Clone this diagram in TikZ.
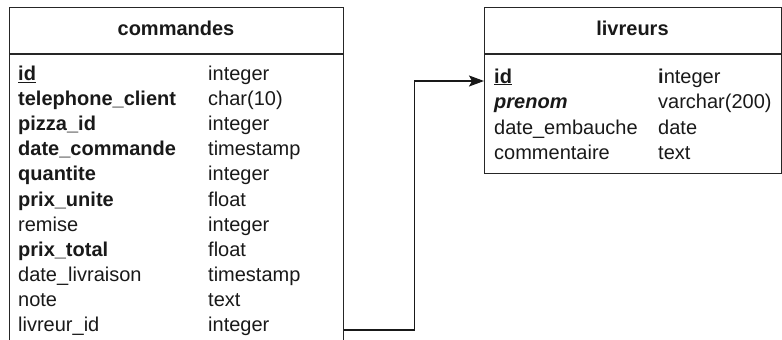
\documentclass[tikz,border=0pt]{standalone}
\usepackage{fontspec}
\setmainfont{Liberation Sans}
\usetikzlibrary{arrows.meta}
\tikzset{
  x=1bp, y=-1bp,
  tbl/.style={draw=black!85, line width=1.2bp, rectangle, inner sep=0pt, anchor=north west},
  sepline/.style={draw=black!85, line width=1.2bp},
  cell/.style={anchor=base west, inner sep=0pt, font=\fontsize{20bp}{24bp}\selectfont, text=black!90},
  head/.style={anchor=base, inner sep=0pt, font=\fontsize{20bp}{24bp}\selectfont\bfseries, text=black!90},
  fkline/.style={draw=black!90, line width=1.4bp, -{Stealth[length=15bp,width=11bp,inset=3bp]}}
}
\begin{document}
\begin{tikzpicture}
\useasboundingbox (0,0) rectangle (782,339);
\clip (0,0) rectangle (782,339);
% commandes table
\node[tbl, minimum width=334bp, minimum height=360bp] (cmd) at (9,7) {};
\draw[sepline] (9,54) -- (343,54);
\node[head] (cmdh) at (176,35.5) {commandes};
\foreach \n/\t/\s [count=\i from 0] in {
  {\underline{\bfseries id}}/integer/b,
  {\bfseries telephone\_client}/char(10)/b,
  {\bfseries pizza\_id}/integer/b,
  {\bfseries date\_commande}/timestamp/b,
  {\bfseries quantite}/integer/b,
  {\bfseries prix\_unite}/float/b,
  {remise}/integer/r,
  {\bfseries prix\_total}/float/b,
  {date\_livraison}/timestamp/r,
  {note}/text/r,
  {livreur\_id}/integer/r}{
  \node[cell] (cmdn\i) at (18,{80.5+25.1*\i}) {\n};
  \node[cell] (cmdt\i) at (208,{80.5+25.1*\i}) {\t};
}
% livreurs table
\node[tbl, minimum width=297bp, minimum height=166bp] (liv) at (484,7) {};
\draw[sepline] (484,54) -- (781,54);
\node[head] (livh) at (632.5,35.5) {livreurs};
\foreach \n/\t [count=\i from 0] in {
  {\underline{\bfseries id}}/{{\bfseries i}nteger},
  {\bfseries\itshape prenom}/varchar(200),
  {date\_embauche}/date,
  {commentaire}/text}{
  \node[cell] (livn\i) at (494,{83+25.5*\i}) {\n};
  \node[cell] (livt\i) at (658,{83+25.5*\i}) {\t};
}
% foreign key connector
\coordinate (fkrow) at (0,330);
\coordinate (pkrow) at (0,81);
\draw[fkline] (cmd.east |- fkrow) -- ++(70,0) |- (liv.west |- pkrow);
\end{tikzpicture}
\end{document}
